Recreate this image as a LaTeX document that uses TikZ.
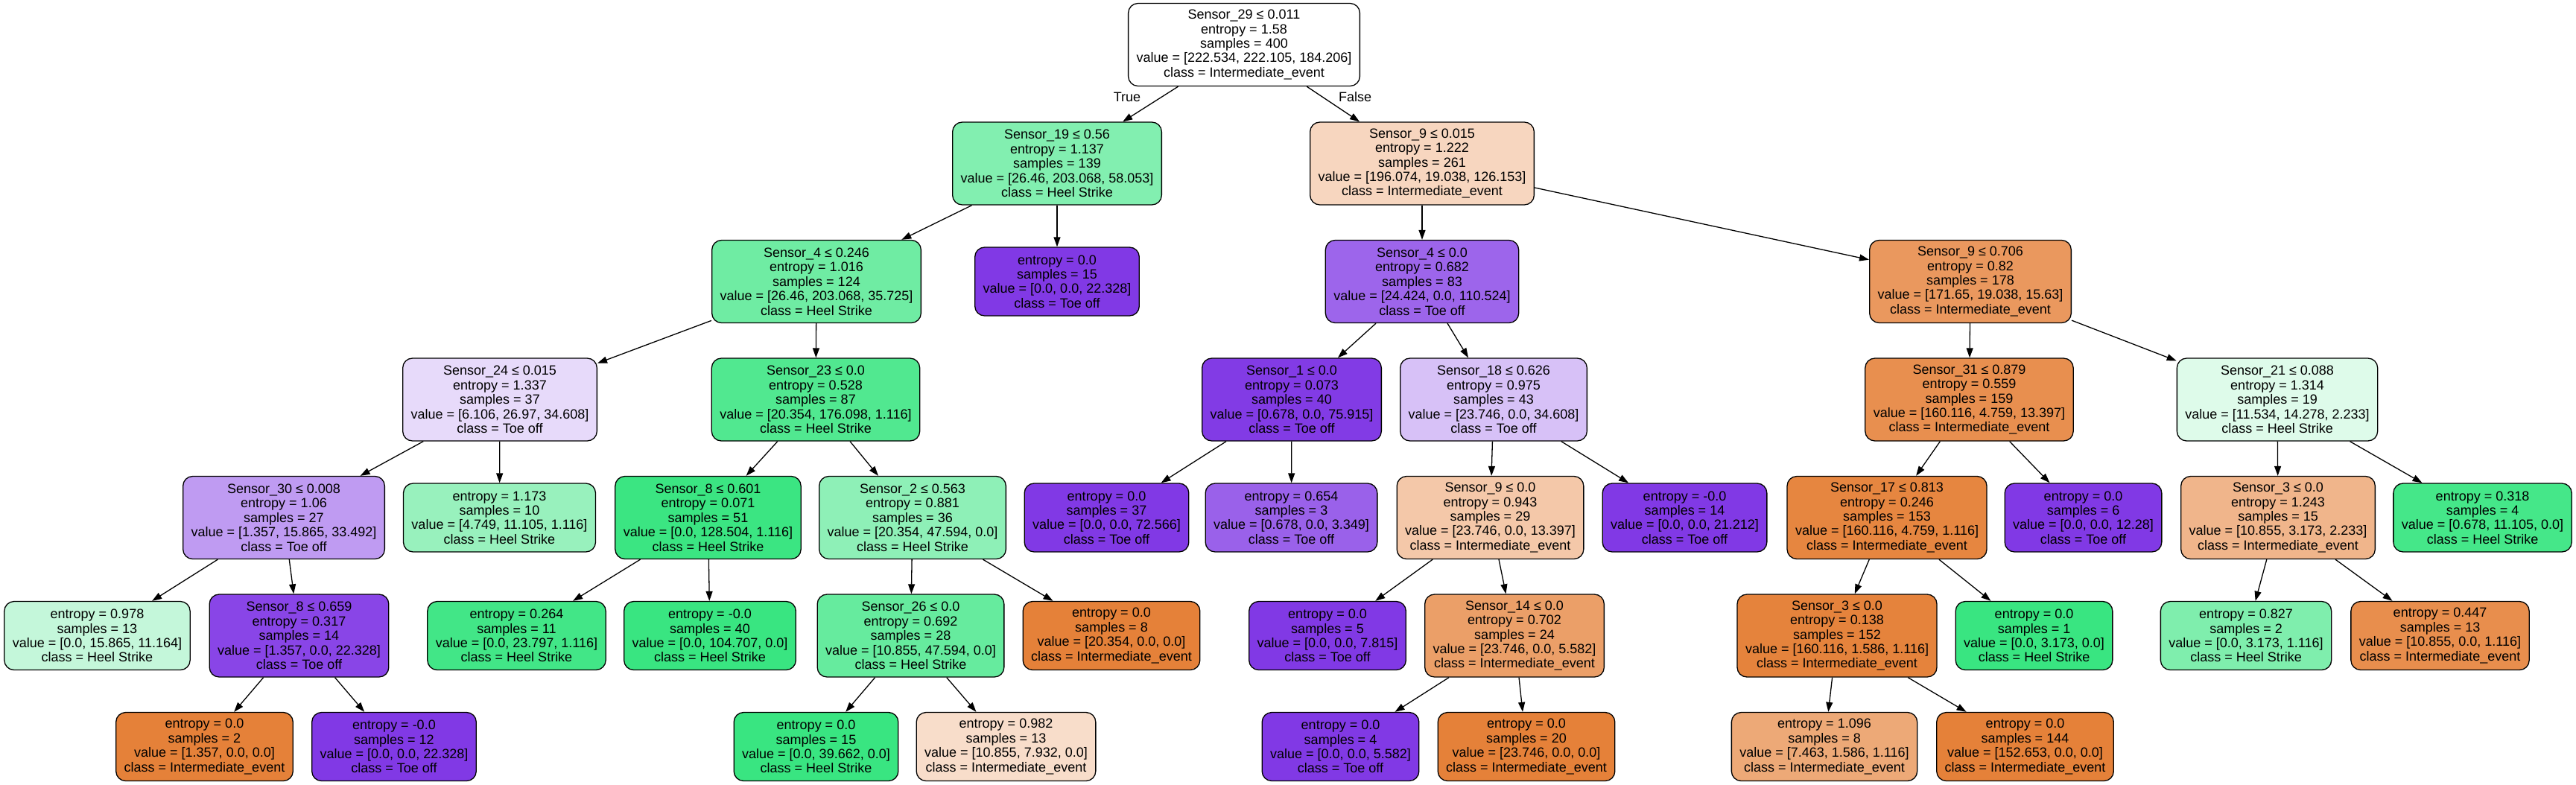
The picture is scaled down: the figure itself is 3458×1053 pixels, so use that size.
\documentclass[tikz,border=0pt]{standalone}
\usepackage{fontspec}
\setmainfont{Liberation Sans}
\usetikzlibrary{arrows.meta}
\definecolor{ie}{RGB}{229,129,57}
\definecolor{hs}{RGB}{57,229,129}
\definecolor{to}{RGB}{129,57,229}
\begin{document}
\begin{tikzpicture}[x=1pt,y=-1pt,
  font=\fontsize{18}{19.4}\selectfont,
  dt/.style={draw=black, line width=1.3pt, rectangle, rounded corners=13pt,
    align=center, inner xsep=11pt, inner ysep=0pt},
  split/.style={dt, minimum height=111pt},
  leaf/.style={dt, minimum height=92pt},
  edge/.style={line width=1.3pt, -{Triangle[length=13pt,width=9pt]}},
  elabel/.style={inner sep=0pt}]
\useasboundingbox (0,0) rectangle (3458,1053);
% level 0
\node[split, fill=white] (R) at (1670,60) {Sensor\_29 ≤ 0.011\\entropy = 1.58\\samples = 400\\value = [222.534, 222.105, 184.206]\\class = Intermediate\_event};
% level 1
\node[split, fill=hs!63!white] (A) at (1419,219.5) {Sensor\_19 ≤ 0.56\\entropy = 1.137\\samples = 139\\value = [26.46, 203.068, 58.053]\\class = Heel Strike};
\node[split, fill=ie!32.5!white] (B) at (1909,219.5) {Sensor\_9 ≤ 0.015\\entropy = 1.222\\samples = 261\\value = [196.074, 19.038, 126.153]\\class = Intermediate\_event};
% level 2
\node[split, fill=hs!72.9!white] (C) at (1096,378) {Sensor\_4 ≤ 0.246\\entropy = 1.016\\samples = 124\\value = [26.46, 203.068, 35.725]\\class = Heel Strike};
\node[leaf, fill=to] (D) at (1419,378) {entropy = 0.0\\samples = 15\\value = [0.0, 0.0, 22.328]\\class = Toe off};
\node[split, fill=to!77.9!white] (E) at (1909,378) {Sensor\_4 ≤ 0.0\\entropy = 0.682\\samples = 83\\value = [24.424, 0.0, 110.524]\\class = Toe off};
\node[split, fill=ie!81.5!white] (F) at (2645,378) {Sensor\_9 ≤ 0.706\\entropy = 0.82\\samples = 178\\value = [171.65, 19.038, 15.63]\\class = Intermediate\_event};
% level 3
\node[split, fill=to!18.8!white] (G) at (671,536.5) {Sensor\_24 ≤ 0.015\\entropy = 1.337\\samples = 37\\value = [6.106, 26.97, 34.608]\\class = Toe off};
\node[split, fill=hs!87.9!white] (H) at (1095,536.5) {Sensor\_23 ≤ 0.0\\entropy = 0.528\\samples = 87\\value = [20.354, 176.098, 1.116]\\class = Heel Strike};
\node[split, fill=to!99.1!white] (I) at (1734,536.5) {Sensor\_1 ≤ 0.0\\entropy = 0.073\\samples = 40\\value = [0.678, 0.0, 75.915]\\class = Toe off};
\node[split, fill=to!31.4!white] (J) at (2005,536.5) {Sensor\_18 ≤ 0.626\\entropy = 0.975\\samples = 43\\value = [23.746, 0.0, 34.608]\\class = Toe off};
\node[split, fill=ie!89!white] (K) at (2643.5,536.5) {Sensor\_31 ≤ 0.879\\entropy = 0.559\\samples = 159\\value = [160.116, 4.759, 13.397]\\class = Intermediate\_event};
\node[split, fill=hs!16.6!white] (L) at (3057,536.5) {Sensor\_21 ≤ 0.088\\entropy = 1.314\\samples = 19\\value = [11.534, 14.278, 2.233]\\class = Heel Strike};
% level 4
\node[split, fill=to!50.6!white] (M) at (381,695) {Sensor\_30 ≤ 0.008\\entropy = 1.06\\samples = 27\\value = [1.357, 15.865, 33.492]\\class = Toe off};
\node[leaf, fill=hs!52!white] (N) at (670.5,695) {entropy = 1.173\\samples = 10\\value = [4.749, 11.105, 1.116]\\class = Heel Strike};
\node[split, fill=hs!99.1!white] (O) at (950.5,695) {Sensor\_8 ≤ 0.601\\entropy = 0.071\\samples = 51\\value = [0.0, 128.504, 1.116]\\class = Heel Strike};
\node[split, fill=hs!57.2!white] (P) at (1225,695) {Sensor\_2 ≤ 0.563\\entropy = 0.881\\samples = 36\\value = [20.354, 47.594, 0.0]\\class = Heel Strike};
\node[leaf, fill=to] (Lf37) at (1485.5,695) {entropy = 0.0\\samples = 37\\value = [0.0, 0.0, 72.566]\\class = Toe off};
\node[leaf, fill=to!79.8!white] (Lf654) at (1733.5,695) {entropy = 0.654\\samples = 3\\value = [0.678, 0.0, 3.349]\\class = Toe off};
\node[split, fill=ie!43.6!white] (S9b) at (2000.5,695) {Sensor\_9 ≤ 0.0\\entropy = 0.943\\samples = 29\\value = [23.746, 0.0, 13.397]\\class = Intermediate\_event};
\node[leaf, fill=to] (Lf14) at (2261.5,695) {entropy = -0.0\\samples = 14\\value = [0.0, 0.0, 21.212]\\class = Toe off};
\node[split, fill=ie!96.4!white] (S17) at (2533,695) {Sensor\_17 ≤ 0.813\\entropy = 0.246\\samples = 153\\value = [160.116, 4.759, 1.116]\\class = Intermediate\_event};
\node[leaf, fill=to] (Lf6) at (2796.5,695) {entropy = 0.0\\samples = 6\\value = [0.0, 0.0, 12.28]\\class = Toe off};
\node[split, fill=ie!58.7!white] (S3a) at (3058,695) {Sensor\_3 ≤ 0.0\\entropy = 1.243\\samples = 15\\value = [10.855, 3.173, 2.233]\\class = Intermediate\_event};
\node[leaf, fill=hs!93.9!white] (Lf318) at (3332.5,695) {entropy = 0.318\\samples = 4\\value = [0.678, 11.105, 0.0]\\class = Heel Strike};
% level 5
\node[leaf, fill=hs!29.6!white] (Lf978) at (130.5,853.5) {entropy = 0.978\\samples = 13\\value = [0.0, 15.865, 11.164]\\class = Heel Strike};
\node[split, fill=to!93.9!white] (S8b) at (401.5,853.5) {Sensor\_8 ≤ 0.659\\entropy = 0.317\\samples = 14\\value = [1.357, 0.0, 22.328]\\class = Toe off};
\node[leaf, fill=hs!95.3!white] (Lf264) at (693.5,853.5) {entropy = 0.264\\samples = 11\\value = [0.0, 23.797, 1.116]\\class = Heel Strike};
\node[leaf, fill=hs] (Lf40) at (953,853.5) {entropy = -0.0\\samples = 40\\value = [0.0, 104.707, 0.0]\\class = Heel Strike};
\node[split, fill=hs!77.2!white] (S26) at (1222.5,853.5) {Sensor\_26 ≤ 0.0\\entropy = 0.692\\samples = 28\\value = [10.855, 47.594, 0.0]\\class = Heel Strike};
\node[leaf, fill=ie] (Lf8) at (1492,853.5) {entropy = 0.0\\samples = 8\\value = [20.354, 0.0, 0.0]\\class = Intermediate\_event};
\node[leaf, fill=to] (Lf5) at (1782,853.5) {entropy = 0.0\\samples = 5\\value = [0.0, 0.0, 7.815]\\class = Toe off};
\node[split, fill=ie!76.5!white] (S14) at (2033,853.5) {Sensor\_14 ≤ 0.0\\entropy = 0.702\\samples = 24\\value = [23.746, 0.0, 5.582]\\class = Intermediate\_event};
\node[split, fill=ie!98.3!white] (S3b) at (2466,853.5) {Sensor\_3 ≤ 0.0\\entropy = 0.138\\samples = 152\\value = [160.116, 1.586, 1.116]\\class = Intermediate\_event};
\node[leaf, fill=hs] (Lf1) at (2730.5,853.5) {entropy = 0.0\\samples = 1\\value = [0.0, 3.173, 0.0]\\class = Heel Strike};
\node[leaf, fill=hs!64.8!white] (Lf827) at (3015,853.5) {entropy = 0.827\\samples = 2\\value = [0.0, 3.173, 1.116]\\class = Heel Strike};
\node[leaf, fill=ie!89.7!white] (Lf447) at (3275.5,853.5) {entropy = 0.447\\samples = 13\\value = [10.855, 0.0, 1.116]\\class = Intermediate\_event};
% level 6
\node[leaf, fill=ie] (Lf2) at (274.5,1002.5) {entropy = 0.0\\samples = 2\\value = [1.357, 0.0, 0.0]\\class = Intermediate\_event};
\node[leaf, fill=to] (Lf12) at (529,1002.5) {entropy = -0.0\\samples = 12\\value = [0.0, 0.0, 22.328]\\class = Toe off};
\node[leaf, fill=hs] (Lf15) at (1095.5,1002.5) {entropy = 0.0\\samples = 15\\value = [0.0, 39.662, 0.0]\\class = Heel Strike};
\node[leaf, fill=ie!26.9!white] (Lf982) at (1350.5,1002.5) {entropy = 0.982\\samples = 13\\value = [10.855, 7.932, 0.0]\\class = Intermediate\_event};
\node[leaf, fill=to] (Lf4) at (1799.5,1002.5) {entropy = 0.0\\samples = 4\\value = [0.0, 0.0, 5.582]\\class = Toe off};
\node[leaf, fill=ie] (Lf20) at (2049,1002.5) {entropy = 0.0\\samples = 20\\value = [23.746, 0.0, 0.0]\\class = Intermediate\_event};
\node[leaf, fill=ie!68.5!white] (Lf1096) at (2449,1002.5) {entropy = 1.096\\samples = 8\\value = [7.463, 1.586, 1.116]\\class = Intermediate\_event};
\node[leaf, fill=ie] (Lf144) at (2718.5,1002.5) {entropy = 0.0\\samples = 144\\value = [152.653, 0.0, 0.0]\\class = Intermediate\_event};
% edge labels
\node[elabel] (lt) at (1513,130) {True};
\node[elabel] (lf) at (1819,130) {False};
% edges
\foreach \p/\c in {R/A, R/B, A/C, A/D, B/E, B/F, C/G, C/H, E/I, E/J, F/K, F/L,
  G/M, G/N, H/O, H/P, I/Lf37, I/Lf654, J/S9b, J/Lf14, K/S17, K/Lf6, L/S3a, L/Lf318,
  M/Lf978, M/S8b, O/Lf264, O/Lf40, P/S26, P/Lf8, S9b/Lf5, S9b/S14, S17/S3b, S17/Lf1,
  S3a/Lf827, S3a/Lf447, S8b/Lf2, S8b/Lf12, S26/Lf15, S26/Lf982, S14/Lf4, S14/Lf20,
  S3b/Lf1096, S3b/Lf144}
  \draw[edge] (\p) -- (\c);
\end{tikzpicture}
\end{document}
